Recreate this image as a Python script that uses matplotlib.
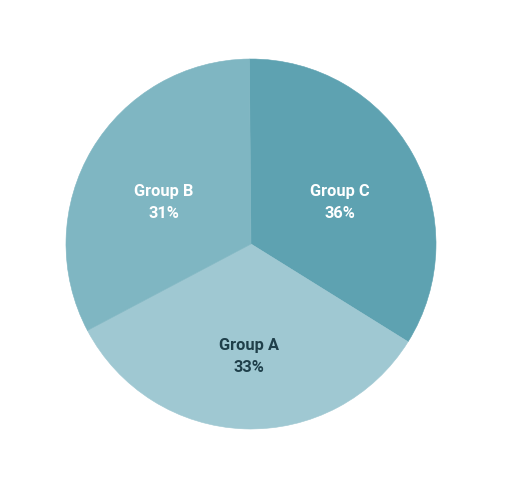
import matplotlib
matplotlib.use("Agg")
import matplotlib.pyplot as plt
import numpy as np

# slice sizes as drawn (clockwise from top), and the labels printed on them
groups = ["Group C", "Group A", "Group B"]
shares = [34.0, 33.4, 32.6]
pct_labels = ["36%", "33%", "31%"]
colors = ["#5ea2b1", "#9fc8d2", "#7fb6c2"]
text_colors = ["white", "#1f3f4a", "white"]

W, H = 509, 500
cx, cy, r = 251, 244, 185

fig = plt.figure(figsize=(W / 100, H / 100), dpi=100)
ax = fig.add_axes([(cx - r) / W, (H - cy - r) / H, 2 * r / W, 2 * r / H])
wedges, _ = ax.pie(shares, colors=colors, startangle=90.5, counterclock=False,
                   radius=1)
for w, c in zip(wedges, colors):
    w.set_edgecolor(c)
    w.set_linewidth(0.4)
ax.set_xlim(-1, 1)
ax.set_ylim(-1, 1)
ax.set_aspect("equal")
ax.axis("off")

# label placement (radius, angle in degrees)
label_pos = [(0.53, 24.8), (0.608, -91), (0.52, 154.5)]
for g, p, tc, (lr, la) in zip(groups, pct_labels, text_colors, label_pos):
    a = np.deg2rad(la)
    ax.text(lr * np.cos(a), lr * np.sin(a), f"{g}\n{p}", ha="center", va="center",
            color=tc, fontsize=11.8, fontweight="bold", linespacing=1.6,
            family=["Roboto", "DejaVu Sans"])

fig.savefig("out.png", dpi=100)
